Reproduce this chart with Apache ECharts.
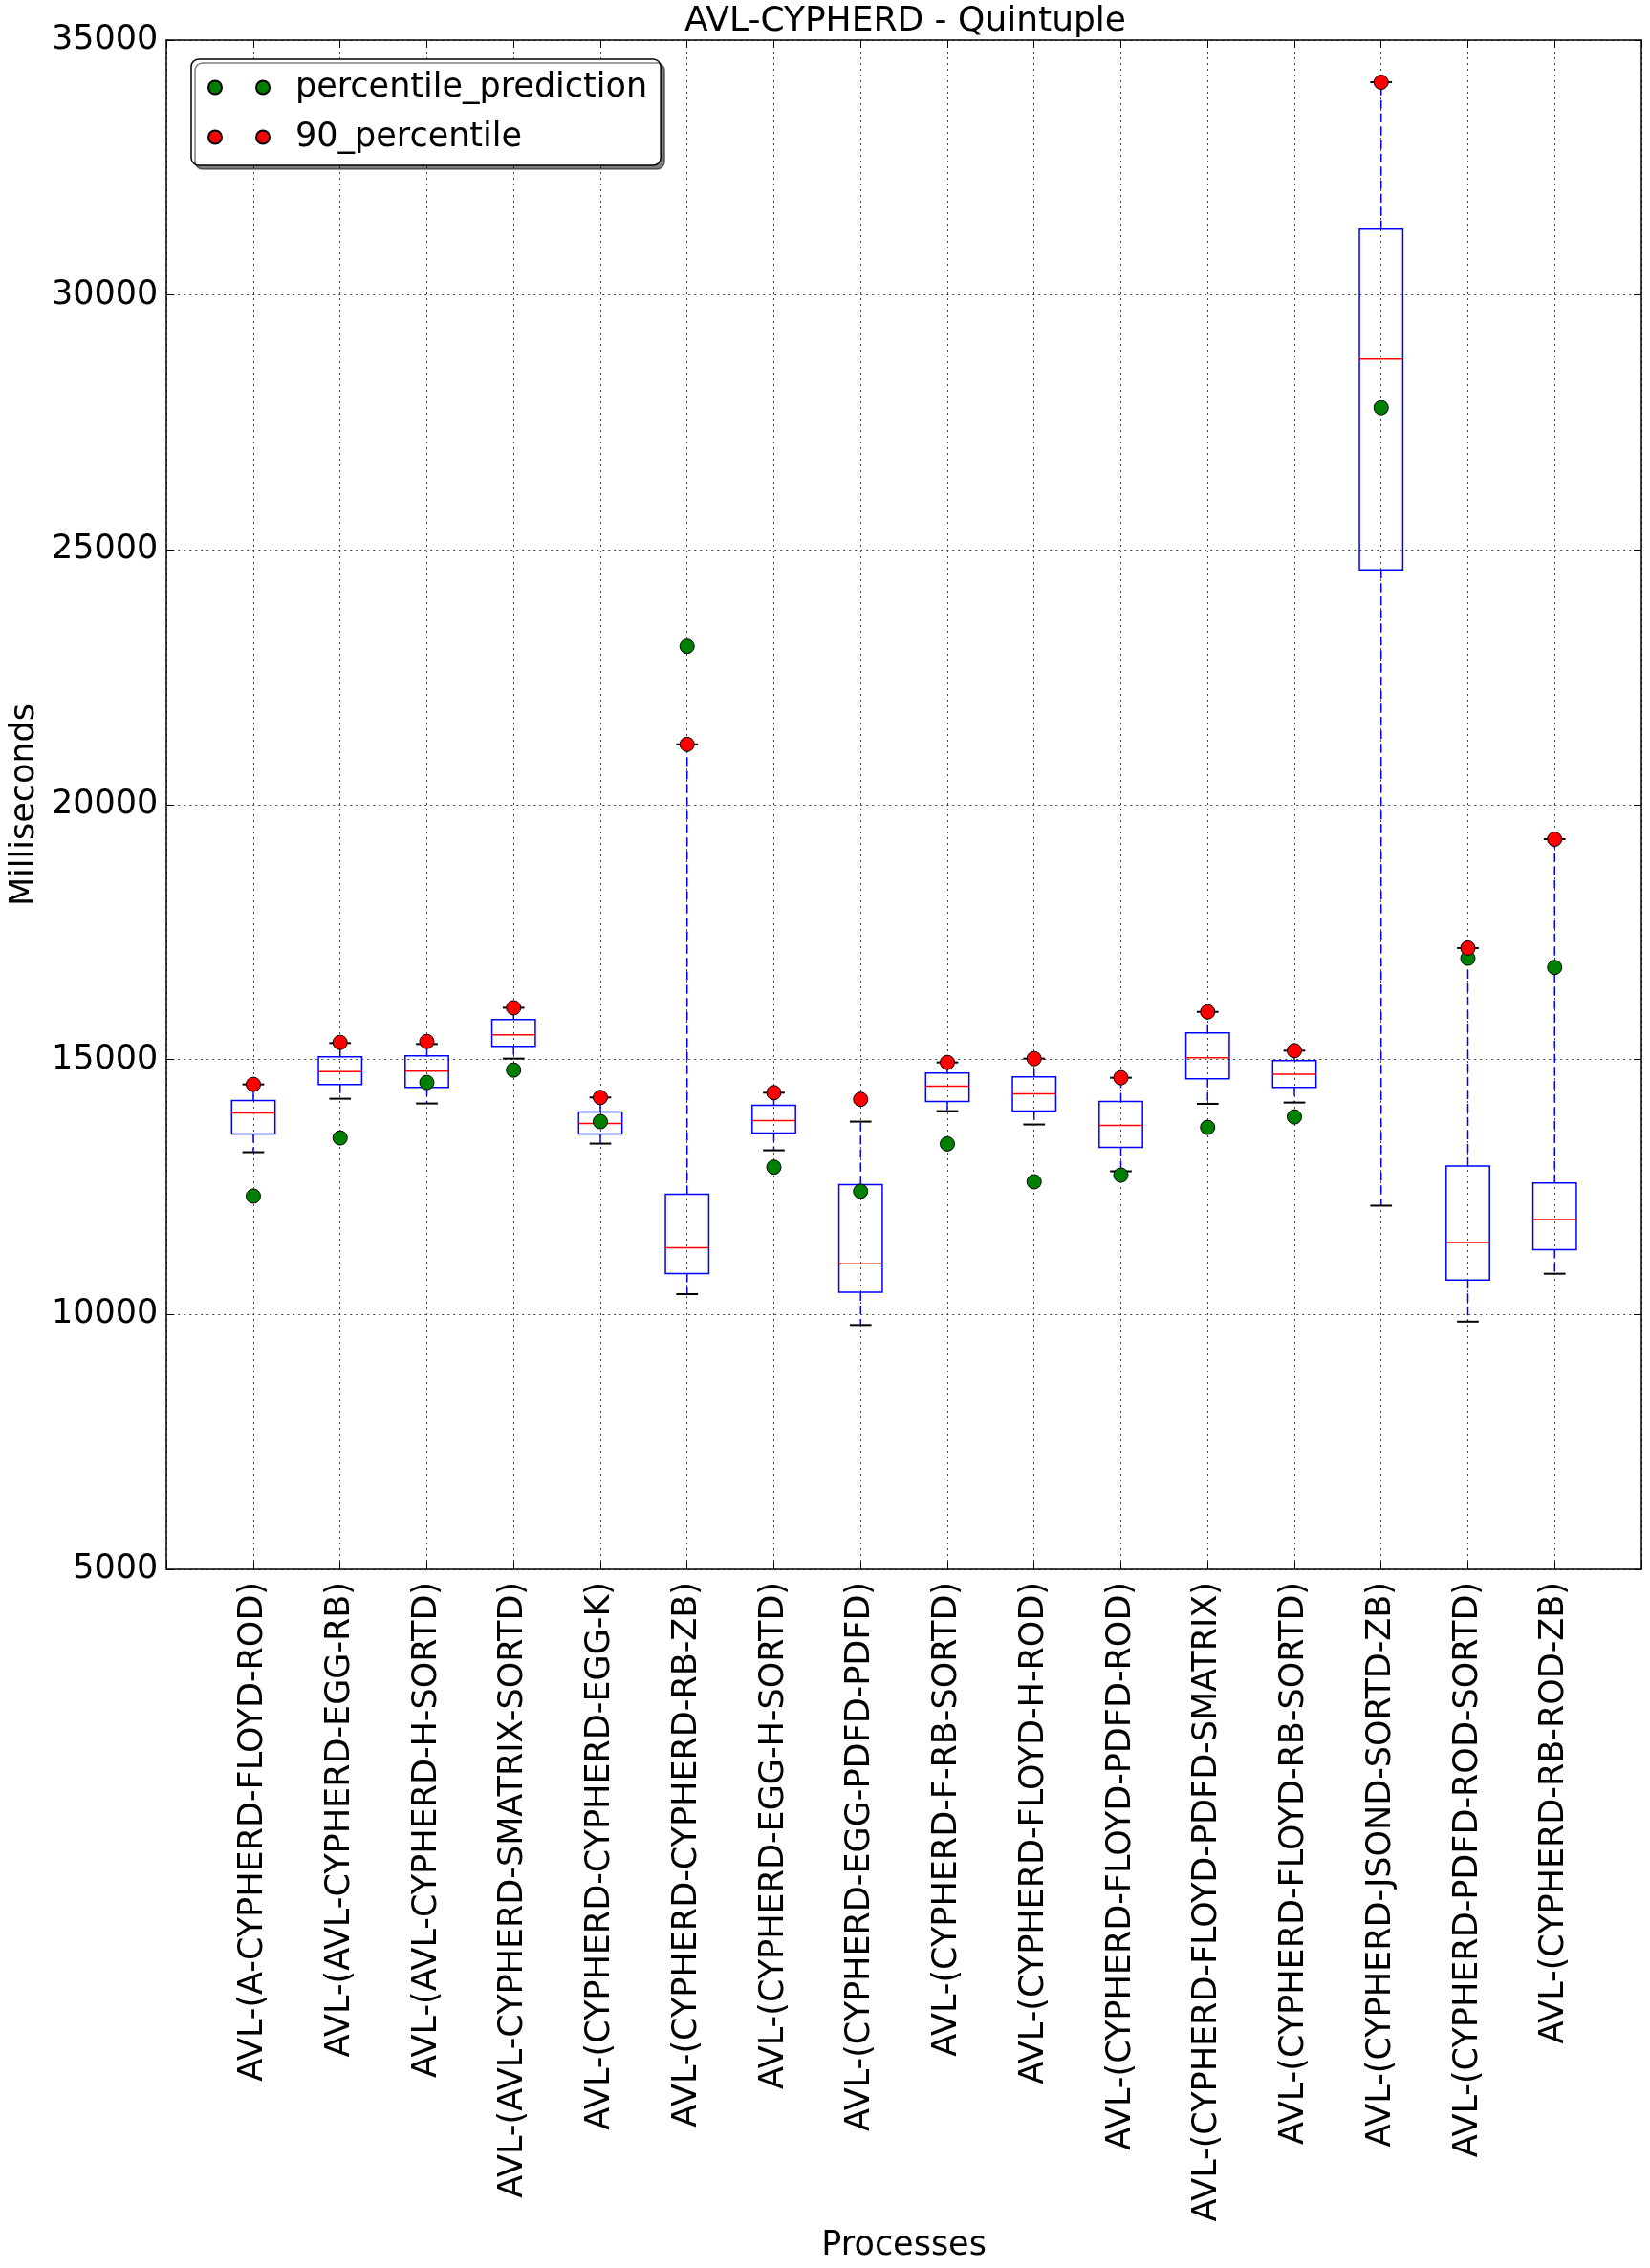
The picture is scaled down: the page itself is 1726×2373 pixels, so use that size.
<!DOCTYPE html>
<html>
<head>
<meta charset="utf-8">
<script src="https://cdn.jsdelivr.net/npm/echarts@6/dist/echarts.min.js"></script>
<style>
html,body{margin:0;padding:0;background:#fff;}
#chart{width:1726px;height:2373px;}
</style>
</head>
<body>
<div id="chart"></div>
<script>
const categories = [
  'AVL-(A-CYPHERD-FLOYD-ROD)',
  'AVL-(AVL-CYPHERD-EGG-RB)',
  'AVL-(AVL-CYPHERD-H-SORTD)',
  'AVL-(AVL-CYPHERD-SMATRIX-SORTD)',
  'AVL-(CYPHERD-CYPHERD-EGG-K)',
  'AVL-(CYPHERD-CYPHERD-RB-ZB)',
  'AVL-(CYPHERD-EGG-H-SORTD)',
  'AVL-(CYPHERD-EGG-PDFD-PDFD)',
  'AVL-(CYPHERD-F-RB-SORTD)',
  'AVL-(CYPHERD-FLOYD-H-ROD)',
  'AVL-(CYPHERD-FLOYD-PDFD-ROD)',
  'AVL-(CYPHERD-FLOYD-PDFD-SMATRIX)',
  'AVL-(CYPHERD-FLOYD-RB-SORTD)',
  'AVL-(CYPHERD-JSOND-SORTD-ZB)',
  'AVL-(CYPHERD-PDFD-ROD-SORTD)',
  'AVL-(CYPHERD-RB-ROD-ZB)'
];
const whiskerLow  = [13184, 14232, 14139, 15019, 13352, 10400, 13221,  9794, 13989, 13727, 12809, 14132, 14157, 12135,  9860, 10800];
const quartile1   = [13539, 14513, 14457, 15262, 13539, 10805, 13558, 10437, 14176, 13989, 13277, 14625, 14457, 24608, 10675, 11273];
const median      = [13951, 14763, 14775, 15487, 13745, 11311, 13802, 10993, 14476, 14326, 13708, 15037, 14713, 28740, 11413, 11863];
const quartile3   = [14195, 15056, 15075, 15786, 13970, 12360, 14101, 12547, 14738, 14663, 14176, 15524, 14981, 31294, 12911, 12578];
const whiskerHigh = [14513, 15325, 15306, 16017, 14257, 21185, 14351, 13783, 14944, 15019, 14644, 15936, 15175, 34174, 17189, 19325];
const percentilePrediction = [12322, 13464, 14551, 14794, 13783, 23109, 12890, 12416, 13346, 12603, 12734, 13670, 13876, 27788, 16988, 16809];
const percentile90 = [14513, 15337, 15356, 16017, 14257, 21185, 14351, 14220, 14944, 15019, 14644, 15936, 15175, 34174, 17189, 19325];
const yTicks = [5000, 10000, 15000, 20000, 25000, 30000, 35000];

const FONT = 'DejaVu Sans';
const FS = 35;
const boxData = categories.map((c, i) => [i + 1, whiskerLow[i], quartile1[i], median[i], quartile3[i], whiskerHigh[i]]);
const predData = categories.map((c, i) => [i + 1, percentilePrediction[i]]);
const p90Data = categories.map((c, i) => [i + 1, percentile90[i]]);

function renderBox(params, api) {
  const x = api.value(0);
  const lo = api.coord([x, api.value(1)]);
  const q1 = api.coord([x, api.value(2)]);
  const md = api.coord([x, api.value(3)]);
  const q3 = api.coord([x, api.value(4)]);
  const hi = api.coord([x, api.value(5)]);
  const slot = api.size([1, 0])[0];
  const bw = slot * 0.5, cw = slot * 0.25;
  const cx = lo[0];
  const dash = {stroke: '#0000ff', lineWidth: 1.5, lineDash: [9, 5], fill: null};
  return {
    type: 'group',
    children: [
      {type: 'line', shape: {x1: cx, y1: q3[1], x2: cx, y2: hi[1]}, style: dash},
      {type: 'line', shape: {x1: cx, y1: q1[1], x2: cx, y2: lo[1]}, style: dash},
      {type: 'line', shape: {x1: cx - cw / 2, y1: hi[1], x2: cx + cw / 2, y2: hi[1]}, style: {stroke: '#000', lineWidth: 2}},
      {type: 'line', shape: {x1: cx - cw / 2, y1: lo[1], x2: cx + cw / 2, y2: lo[1]}, style: {stroke: '#000', lineWidth: 2}},
      {type: 'rect', shape: {x: cx - bw / 2, y: q3[1], width: bw, height: q1[1] - q3[1]}, style: {fill: 'none', stroke: '#0000ff', lineWidth: 1.5}},
      {type: 'line', shape: {x1: cx - bw / 2, y1: md[1], x2: cx + bw / 2, y2: md[1]}, style: {stroke: '#ff0000', lineWidth: 1.5}}
    ]
  };
}

const gridLine = {show: true, lineStyle: {color: '#444', width: 1, type: [2, 4]}};
const frame = {show: true, onZero: false, lineStyle: {color: '#000', width: 1.5}};
const tickIn = {show: true, inside: true, length: 8, lineStyle: {color: '#000', width: 1}};

const chart = echarts.init(document.getElementById('chart'), null, {renderer: 'canvas'});
chart.setOption({
  backgroundColor: '#fff',
  animation: false,
  textStyle: {fontFamily: FONT},
  title: {
    text: 'AVL-CYPHERD - Quintuple',
    left: 942, top: 0, textAlign: 'center',
    textStyle: {fontSize: 36, fontWeight: 'normal', color: '#000', fontFamily: FONT}
  },
  legend: {
    orient: 'vertical', left: 200, top: 62,
    padding: [12, 14, 12, 17],
    itemWidth: 64, itemHeight: 14, itemGap: 17,
    backgroundColor: '#fff', borderColor: '#000', borderWidth: 1.5, borderRadius: 8,
    shadowColor: 'rgba(0,0,0,0.5)', shadowOffsetX: 4, shadowOffsetY: 4, shadowBlur: 0,
    icon: 'path://M0,7A7,7,0,1,1,14,7A7,7,0,1,1,0,7ZM50,7A7,7,0,1,1,64,7A7,7,0,1,1,50,7Z',
    textStyle: {fontSize: FS, color: '#000', fontFamily: FONT, padding: [0, 0, 0, 22]},
    data: ['percentile_prediction', '90_percentile']
  },
  grid: {left: 167, top: 42, width: 1550, height: 1600, containLabel: false},
  xAxis: [{
    type: 'value', min: 0, max: 17, interval: 1,
    name: 'Processes', nameLocation: 'middle', nameGap: 686,
    nameTextStyle: {fontSize: FS, color: '#000', fontFamily: FONT},
    axisLine: frame, axisTick: tickIn, splitLine: gridLine,
    axisLabel: {
      rotate: 90, margin: 13, fontSize: FS, color: '#000', fontFamily: FONT,
      formatter: v => (v >= 1 && v <= categories.length) ? categories[v - 1] : ''
    }
  }, {
    type: 'value', position: 'top', min: 0, max: 17, interval: 1,
    axisLine: frame, axisTick: tickIn, splitLine: {show: false}, axisLabel: {show: false}
  }],
  yAxis: [{
    type: 'value', min: yTicks[0], max: yTicks[yTicks.length - 1], interval: 5000,
    name: 'Milliseconds', nameLocation: 'middle', nameGap: 121, nameRotate: 90,
    nameTextStyle: {fontSize: FS, color: '#000', fontFamily: FONT},
    axisLine: frame, axisTick: tickIn, splitLine: gridLine,
    axisLabel: {fontSize: FS, color: '#000', margin: 9, fontFamily: FONT, formatter: v => String(v)}
  }, {
    type: 'value', position: 'right', min: yTicks[0], max: yTicks[yTicks.length - 1], interval: 5000,
    axisLine: frame, axisTick: tickIn, splitLine: {show: false}, axisLabel: {show: false}
  }],
  series: [{
    type: 'custom', name: 'box', renderItem: renderBox,
    encode: {x: 0, y: [1, 2, 3, 4, 5]}, data: boxData, z: 2, silent: true
  }, {
    type: 'scatter', name: 'percentile_prediction', data: predData,
    symbol: 'circle', symbolSize: 15, z: 3,
    itemStyle: {color: '#008000', borderColor: '#000', borderWidth: 1, opacity: 1}
  }, {
    type: 'scatter', name: '90_percentile', data: p90Data,
    symbol: 'circle', symbolSize: 15, z: 4,
    itemStyle: {color: '#ff0000', borderColor: '#000', borderWidth: 1, opacity: 1}
  }]
});
</script>
</body>
</html>
